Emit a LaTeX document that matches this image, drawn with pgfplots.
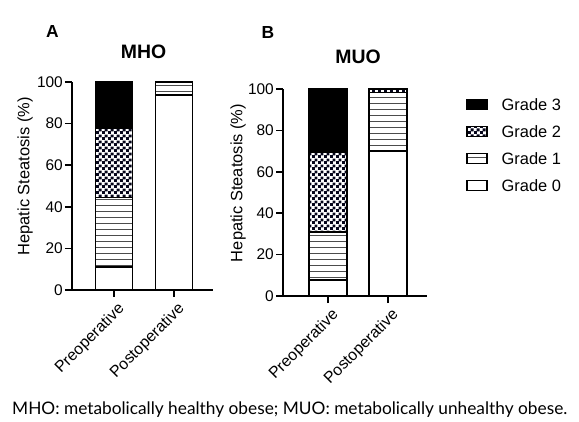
\documentclass[border=0pt]{standalone}
\usepackage{fontspec}
\setmainfont{Liberation Sans}
\newfontfamily\capfont{Lato}
\usepackage{pgfplots}
\pgfplotsset{compat=1.18}
\usetikzlibrary{patterns}

% fine horizontal rules for Grade 1
\pgfdeclarepatternformonly{gradelines}{\pgfqpoint{0bp}{-1bp}}{\pgfqpoint{4bp}{1bp}}{\pgfqpoint{4bp}{6bp}}{%
  \pgfsetlinewidth{1bp}%
  \pgfpathmoveto{\pgfqpoint{0bp}{0bp}}\pgfpathlineto{\pgfqpoint{4bp}{0bp}}\pgfusepath{stroke}}
% small checkerboard for Grade 2
\pgfdeclarepatternformonly{gradecheck}{\pgfqpoint{0bp}{0bp}}{\pgfqpoint{6bp}{6bp}}{\pgfqpoint{6bp}{6bp}}{%
  \pgfpathrectangle{\pgfqpoint{0bp}{0bp}}{\pgfqpoint{3.3bp}{3.3bp}}%
  \pgfpathrectangle{\pgfqpoint{3bp}{3bp}}{\pgfqpoint{3.3bp}{3.3bp}}%
  \pgfusepath{fill}}

\definecolor{checkdark}{HTML}{05051A}

\pgfplotsset{
  steatosis/.style={
    scale only axis,
    ybar stacked, bar shift=0pt,
    ymin=0, ymax=100,
    axis x line*=bottom, axis y line*=left,
    axis line style={line width=1.6bp},
    every tick/.style={line width=1.6bp, black},
    tick align=outside, major tick length=7bp,
    ytick={0,20,40,60,80,100},
    xtick={0,1}, xticklabels={Preoperative,Postoperative},
    /pgf/number format/assume math mode=true,
    yticklabel style={font=\fontsize{15.5}{18}\selectfont, inner sep=2bp},
    xticklabel style={font=\fontsize{16}{19}\selectfont, rotate=45, anchor=north east, inner sep=1bp, yshift=-4bp},
    ylabel={Hepatic Steatosis (\%)},
    ylabel style={font=\fontsize{16.5}{19}\selectfont, anchor=center},
    every axis plot/.append style={draw=black, line width=1.6bp},
    clip=false,
  },
  g0/.style={fill=white},
  g1/.style={pattern=gradelines, pattern color=black!70},
  g2/.style={pattern=gradecheck, pattern color=checkdark},
  g3/.style={fill=black},
}

\begin{document}
\begin{tikzpicture}
\useasboundingbox (0,0) rectangle (579bp,422bp);

% Panel A: MHO
\begin{axis}[steatosis,
  at={(72bp,132bp)}, anchor=south west,
  width=141bp, height=208bp,
  xmin=-0.7, xmax=1.65, bar width=37bp,
  ylabel style={at={(axis description cs:-0.333,0.546)}},
]
\addplot[g0] coordinates {(0,11.1) (1,93.75)};
\addplot[g1] coordinates {(0,33.3) (1,6.25)};
\addplot[g2] coordinates {(0,33.3) (1,0)};
\addplot[g3] coordinates {(0,22.3) (1,0)};
\node[font=\fontsize{19.5}{22}\selectfont\bfseries] at (axis description cs:0.507,1.144) {MHO};
\node[font=\fontsize{17.5}{20}\selectfont\bfseries] at (axis description cs:-0.138,1.245) {A};
\end{axis}

% Panel B: MUO
\begin{axis}[steatosis,
  at={(283bp,126bp)}, anchor=south west,
  width=144bp, height=207bp,
  xmin=-0.75, xmax=1.65, bar width=38bp,
  ylabel style={at={(axis description cs:-0.3125,0.546)}},
  reverse legend,
  legend cell align=left,
  legend style={at={(axis description cs:1.27,0.965)}, anchor=north west,
    draw=none, fill=none, inner sep=0pt, row sep=11bp,
    font=\fontsize{16.5}{19}\selectfont,
    nodes={inner sep=2bp, text height=12bp, text depth=0bp}},
  legend image code/.code={%
    \draw[#1, line width=1.5bp] (0bp,-5bp) rectangle (20bp,5bp);
    \path (32bp,0bp);},
]
\addplot[g0] coordinates {(0,7.7) (1,70)};
\addplot[g1] coordinates {(0,23.1) (1,28.3)};
\addplot[g2] coordinates {(0,38.5) (1,1.7)};
\addplot[g3] coordinates {(0,30.7) (1,0)};
\legend{Grade 0,Grade 1,Grade 2,Grade 3}
\node[font=\fontsize{19.5}{22}\selectfont\bfseries] at (axis description cs:0.521,1.155) {MUO};
\node[font=\fontsize{17.5}{20}\selectfont\bfseries] at (axis description cs:-0.104,1.275) {B};
\end{axis}

\node[anchor=west, inner sep=0pt] at (12bp,12bp)
  {\resizebox{555bp}{!}{\capfont MHO: metabolically healthy obese; MUO: metabolically unhealthy obese.}};
\end{tikzpicture}
\end{document}
